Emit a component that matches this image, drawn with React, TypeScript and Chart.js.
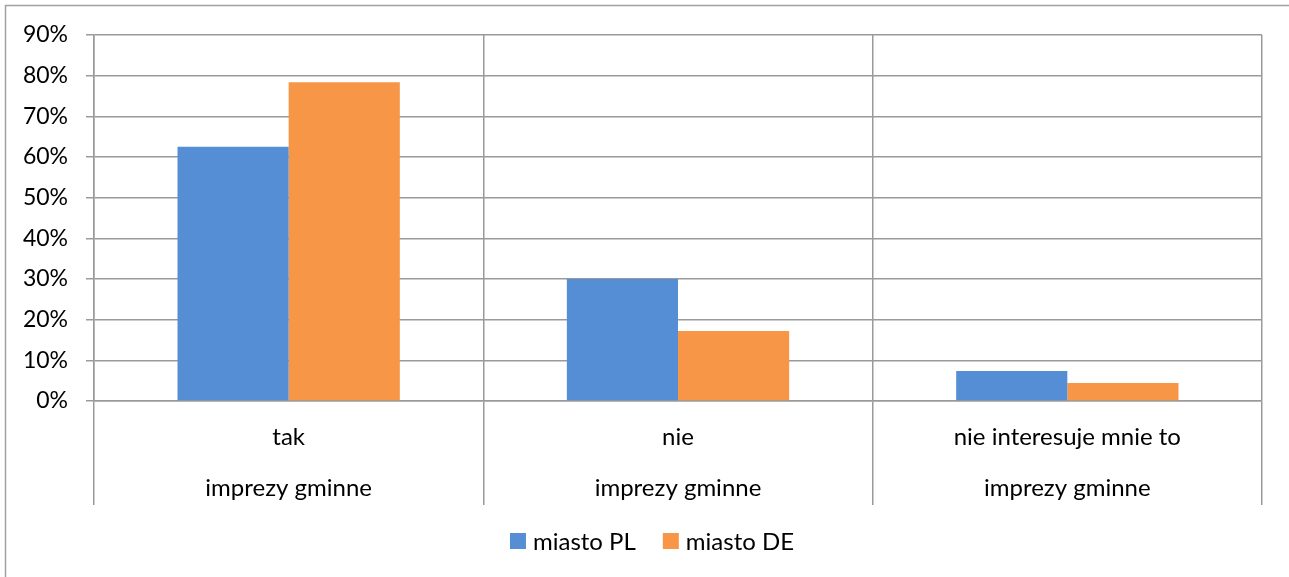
import React, { useEffect, useRef } from "react";
import { Chart, registerables } from "chart.js";

Chart.register(...registerables);

const categories = ["tak", "nie", "nie interesuje mnie to"];
const groupLabel = "imprezy gminne";
const seriesNames = ["miasto PL", "miasto DE"];
const miastoPL = [0.625, 0.30, 0.074];
const miastoDE = [0.784, 0.172, 0.044];
const colors = ["#558ED5", "#F79646"];
const yTicks = [0, 0.1, 0.2, 0.3, 0.4, 0.5, 0.6, 0.7, 0.8, 0.9];

const FONT = "Lato, 'Open Sans', sans-serif";
const GRID = "#9a9a9a";

const customPlugin = {
  id: "custom",
  beforeDraw(chart: any) {
    const ctx = chart.ctx;
    ctx.save();
    ctx.fillStyle = "#ffffff";
    ctx.fillRect(0, 0, chart.width, chart.height);
    ctx.strokeStyle = "#a0a0a0";
    ctx.lineWidth = 1.5;
    ctx.beginPath();
    ctx.moveTo(5.5, chart.height);
    ctx.lineTo(5.5, 5.5);
    ctx.lineTo(chart.width, 5.5);
    ctx.stroke();
    ctx.restore();
  },
  afterDraw(chart: any) {
    const ctx = chart.ctx;
    const x = chart.scales.x;
    ctx.save();
    ctx.fillStyle = "#000000";
    ctx.font = "24px " + FONT;
    ctx.textAlign = "center";
    ctx.textBaseline = "middle";
    categories.forEach((c, i) => {
      const px = x.getPixelForValue(i);
      ctx.fillText(c, px, x.top + 36);
      ctx.fillText(groupLabel, px, x.top + 87);
    });
    // legend
    const items = seriesNames.map((n, i) => ({ n, c: colors[i], w: ctx.measureText(n).width }));
    const box = 16;
    const gapBoxText = 7;
    const gapItems = 27;
    let total = 0;
    items.forEach((it, i) => {
      total += box + gapBoxText + it.w + (i < items.length - 1 ? gapItems : 0);
    });
    let cx = 652 - total / 2;
    const cy = 541;
    ctx.textAlign = "left";
    items.forEach((it) => {
      ctx.fillStyle = it.c;
      ctx.fillRect(cx, cy - 8, box, box);
      ctx.fillStyle = "#000000";
      ctx.fillText(it.n, cx + box + gapBoxText, cy + 1);
      cx += box + gapBoxText + it.w + gapItems;
    });
    ctx.restore();
  },
};

export default function App() {
  const ref = useRef<HTMLCanvasElement | null>(null);
  useEffect(() => {
    document.body.style.margin = "0";
    const canvas = ref.current!;
    const chart = new Chart(canvas, {
      type: "bar",
      data: {
        labels: categories,
        datasets: [
          { label: seriesNames[0], data: miastoPL, backgroundColor: colors[0], categoryPercentage: 0.571, barPercentage: 1 },
          { label: seriesNames[1], data: miastoDE, backgroundColor: colors[1], categoryPercentage: 0.571, barPercentage: 1 },
        ],
      },
      options: {
        responsive: false,
        animation: false,
        layout: { padding: { top: 35, left: 0, right: 27, bottom: 72 } },
        plugins: { legend: { display: false }, tooltip: { enabled: false } },
        scales: {
          x: {
            offset: true,
            grid: { offset: true, color: GRID, lineWidth: 1.5, tickLength: 104, drawTicks: true },
            border: { display: true, color: GRID, width: 1.5 },
            ticks: { display: false },
            afterFit: (s: any) => { s.height = 104; },
          },
          y: {
            min: 0,
            max: 0.9,
            afterBuildTicks: (s: any) => { s.ticks = yTicks.map((v) => ({ value: v })); },
            grid: { color: GRID, lineWidth: 1.5, tickLength: 8 },
            border: { display: true, color: GRID, width: 1.5 },
            ticks: {
              padding: 18,
              color: "#000000",
              font: { family: FONT, size: 23 },
              callback: (v: any) => Math.round(Number(v) * 100) + "%",
            },
            afterFit: (s: any) => { s.width = 94; },
          },
        },
      },
      plugins: [customPlugin],
    });
    return () => chart.destroy();
  }, []);
  return <canvas ref={ref} width={1289} height={577} style={{ display: "block" }} />;
}
